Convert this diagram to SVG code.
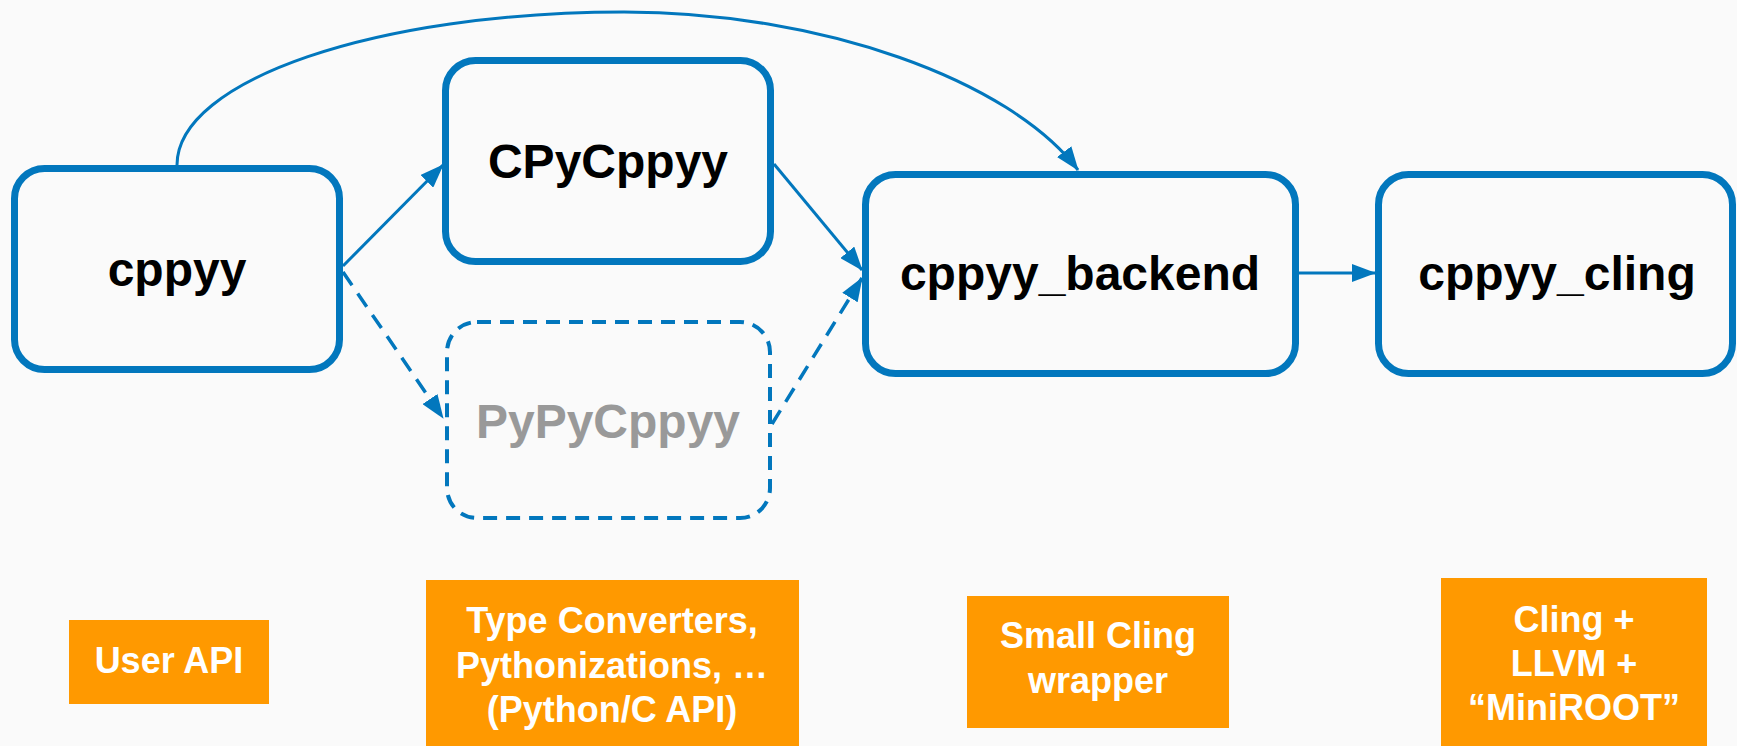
<svg xmlns="http://www.w3.org/2000/svg" width="1737" height="746" viewBox="0 0 1737 746">
<style>
.box{fill:#fafafa;stroke:#0277bd;stroke-width:7}
.dbox{fill:#fafafa;stroke:#0277bd;stroke-width:4;stroke-dasharray:14 9}
.t{font-family:"Liberation Sans",Arial,sans-serif;font-weight:bold;font-size:48px;text-anchor:middle;fill:#000}
.tg{fill:#999}
.lab{fill:#ff9900}
.lt{font-family:"Liberation Sans",Arial,sans-serif;font-weight:bold;font-size:36px;text-anchor:middle;fill:#fff}
.c{fill:none;stroke:#0277bd;stroke-width:3}
.cd{fill:none;stroke:#0277bd;stroke-width:3.5;stroke-dasharray:16 10}
</style>
<defs>
<marker id="ah" markerUnits="userSpaceOnUse" markerWidth="24" markerHeight="18" refX="23" refY="9" orient="auto">
<path d="M0,0 L24,9 L0,18 z" fill="#0277bd" stroke="none"/>
</marker>
</defs>
<rect width="1737" height="746" fill="#fafafa"/>
<g id="connectors">
<path class="c" d="M177,165 C177,80 377,12 624,12 C820,12 1010,80 1078,170" marker-end="url(#ah)"/>
<path class="c" d="M343,266 L443,165" marker-end="url(#ah)"/>
<path class="cd" d="M343,272 L443,418" marker-end="url(#ah)"/>
<path class="c" d="M774,164 L862,270" marker-end="url(#ah)"/>
<path class="cd" d="M772,424 L862,278" marker-end="url(#ah)"/>
<path class="c" d="M1299,273 L1375,273" marker-end="url(#ah)"/>
</g>
<g id="node-cppyy">
<rect class="box" x="14.5" y="168.5" width="325" height="201" rx="30"/>
<text class="t" x="177" y="286">cppyy</text>
</g>
<g id="node-cpycppyy">
<rect class="box" x="445.5" y="60.5" width="325" height="201" rx="30"/>
<text class="t" x="608" y="178">CPyCppyy</text>
</g>
<g id="node-pypycppyy">
<rect class="dbox" x="447" y="322" width="323" height="196" rx="30"/>
<text class="t tg" x="608" y="438">PyPyCppyy</text>
</g>
<g id="node-backend">
<rect class="box" x="865.5" y="174.5" width="430" height="199" rx="30"/>
<text class="t" x="1080" y="290">cppyy_backend</text>
</g>
<g id="node-cling">
<rect class="box" x="1378.5" y="174.5" width="354" height="199" rx="30"/>
<text class="t" x="1557" y="290">cppyy_cling</text>
</g>
<g id="label-userapi">
<rect class="lab" x="69" y="620" width="200" height="84"/>
<text class="lt" x="169" y="673">User API</text>
</g>
<g id="label-typeconv">
<rect class="lab" x="426" y="580" width="373" height="170"/>
<text class="lt" x="612" y="633">Type Converters,</text>
<text class="lt" x="612" y="678">Pythonizations, …</text>
<text class="lt" x="612" y="722">(Python/C API)</text>
</g>
<g id="label-smallcling">
<rect class="lab" x="967" y="596" width="262" height="132"/>
<text class="lt" x="1098" y="648">Small Cling</text>
<text class="lt" x="1098" y="693">wrapper</text>
</g>
<g id="label-cling">
<rect class="lab" x="1441" y="578" width="266" height="172"/>
<text class="lt" x="1574" y="632">Cling +</text>
<text class="lt" x="1574" y="676">LLVM +</text>
<text class="lt" x="1574" y="720">“MiniROOT”</text>
</g>
</svg>
